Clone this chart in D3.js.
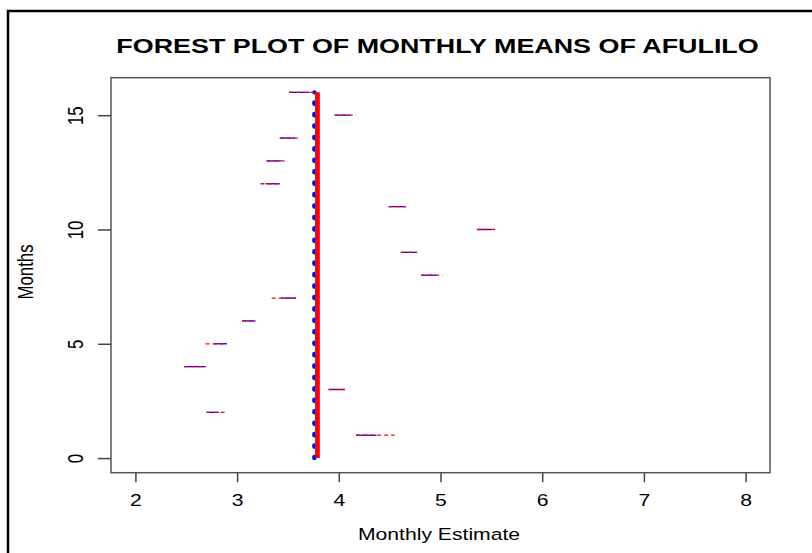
<!DOCTYPE html>
<html>
<head>
<meta charset="utf-8">
<script src="https://cdn.jsdelivr.net/npm/d3@7"></script>
<style>
  html, body { margin: 0; padding: 0; background: #fff; }
  svg { display: block; }
  text { font-family: "Liberation Sans", Arial, Helvetica, sans-serif; fill: #000; }
</style>
</head>
<body>
<svg id="chart" width="812" height="553"></svg>
<script>
// ---- data ----
const months    = [1, 2, 3, 4, 5, 6, 7, 8, 9, 10, 11, 12, 13, 14, 15, 16];
const blueLow   = [4.17, 2.70, 3.90, 2.48, 2.77, 3.05, 3.43, 4.81, 4.61, 5.36, 4.49, 3.28, 3.29, 3.42, 3.96, 3.51];
const blueHigh  = [4.37, 2.82, 4.06, 2.69, 2.90, 3.18, 3.58, 4.96, 4.77, 5.50, 4.66, 3.42, 3.43, 3.57, 4.11, 3.71];
const redLow    = [4.17, 2.70, 3.90, 2.48, 2.69, 3.05, 3.34, 4.81, 4.61, 5.36, 4.49, 3.23, 3.29, 3.42, 3.96, 3.51];
const redHigh   = [4.55, 2.88, 4.06, 2.69, 2.90, 3.18, 3.58, 5.02, 4.77, 5.56, 4.66, 3.42, 3.47, 3.62, 4.17, 3.79];
const redMean   = 3.79;   // thick red vertical line
const blueMean  = 3.76;   // dotted blue vertical line
const xTicks    = [2, 3, 4, 5, 6, 7, 8];
const yTicks    = [0, 5, 10, 15];
const xLim      = [2, 8];
const yLim      = [0, 16];
const titleText = "FOREST PLOT OF MONTHLY MEANS OF AFULILO";
const xLabel    = "Monthly Estimate";
const yLabel    = "Months";

// ---- layout ----
const box = { left: 111, right: 770, top: 77.7, bottom: 472.7 };
const sx = 1.26;          // horizontal stretch of the original image
const fs = 16.8;

const ext = (lim) => { const d = (lim[1] - lim[0]) * 0.04; return [lim[0] - d, lim[1] + d]; };
const x = d3.scaleLinear().domain(ext(xLim)).range([box.left, box.right]);
const y = d3.scaleLinear().domain(ext(yLim)).range([box.bottom, box.top]);

const svg = d3.select("#chart");

// figure border (top + left only)
svg.append("path")
  .attr("d", `M8,553 V11 H812`)
  .attr("fill", "none").attr("stroke", "#000").attr("stroke-width", 2.5);

// title
svg.append("text")
  .attr("transform", `translate(437.5,52.5) scale(1.28,1)`)
  .attr("text-anchor", "middle")
  .attr("font-weight", "bold")
  .attr("font-size", 21)
  .text(titleText);

// plot box
svg.append("rect")
  .attr("x", box.left).attr("y", box.top)
  .attr("width", box.right - box.left).attr("height", box.bottom - box.top)
  .attr("fill", "none").attr("stroke", "#555").attr("stroke-width", 1.5);

// x axis
const gx = svg.append("g")
  .attr("transform", `translate(0,${box.bottom})`)
  .call(d3.axisBottom(x).tickValues(xTicks).tickSize(9.5).tickFormat(d3.format("d")));
gx.select(".domain").remove();
gx.selectAll(".tick line").attr("stroke", "#444").attr("stroke-width", 1.5);
gx.selectAll(".tick text")
  .attr("y", 0).attr("dy", null)
  .attr("transform", `translate(0,33.5) scale(${sx},1)`)
  .attr("font-size", fs).attr("font-family", null).attr("fill", "#000");

// y axis
const gy = svg.append("g")
  .attr("transform", `translate(${box.left},0)`)
  .call(d3.axisLeft(y).tickValues(yTicks).tickSize(13).tickFormat(d3.format("d")));
gy.select(".domain").remove();
gy.selectAll(".tick line").attr("stroke", "#444").attr("stroke-width", 1.5);
gy.selectAll(".tick text")
  .attr("x", 0).attr("y", 0).attr("dy", null)
  .attr("text-anchor", "middle")
  .attr("transform", `translate(-28.4,0) rotate(-90) scale(1,${sx})`)
  .attr("font-size", fs).attr("font-family", null).attr("fill", "#000");

// axis labels
svg.append("text")
  .attr("transform", `translate(439,540) scale(${sx},1)`)
  .attr("text-anchor", "middle").attr("font-size", fs)
  .text(xLabel);
svg.append("text")
  .attr("transform", `translate(33,272) rotate(-90) scale(1,${sx})`)
  .attr("text-anchor", "middle").attr("font-size", fs)
  .text(yLabel);

// vertical reference lines
const period = y(0) - y(0.5);
svg.append("line")
  .attr("x1", x(blueMean)).attr("x2", x(blueMean))
  .attr("y1", y(0)).attr("y2", y(16))
  .attr("stroke", "#0000ff").attr("stroke-width", 4.4)
  .attr("stroke-linecap", "round")
  .attr("stroke-dasharray", `1.2 ${period - 1.2}`);
svg.append("line")
  .attr("x1", x(redMean)).attr("x2", x(redMean))
  .attr("y1", y(0)).attr("y2", y(16))
  .attr("stroke", "#ff0000").attr("stroke-width", 4.8);

// interval segments
const rows = months.map((m, i) => ({ m, bl: blueLow[i], bh: blueHigh[i], rl: redLow[i], rh: redHigh[i] }));
svg.append("g").selectAll("line").data(rows).join("line")
  .attr("x1", d => x(d.bl)).attr("x2", d => x(d.bh))
  .attr("y1", d => y(d.m)).attr("y2", d => y(d.m))
  .attr("stroke", "#0000ff").attr("stroke-width", 1.3);
svg.append("g").selectAll("line").data(rows).join("line")
  .attr("x1", d => x(d.rl)).attr("x2", d => x(d.rh))
  .attr("y1", d => y(d.m)).attr("y2", d => y(d.m))
  .attr("stroke", "#ff0000").attr("stroke-width", 1.3)
  .attr("stroke-dasharray", "4 3");
</script>
</body>
</html>
